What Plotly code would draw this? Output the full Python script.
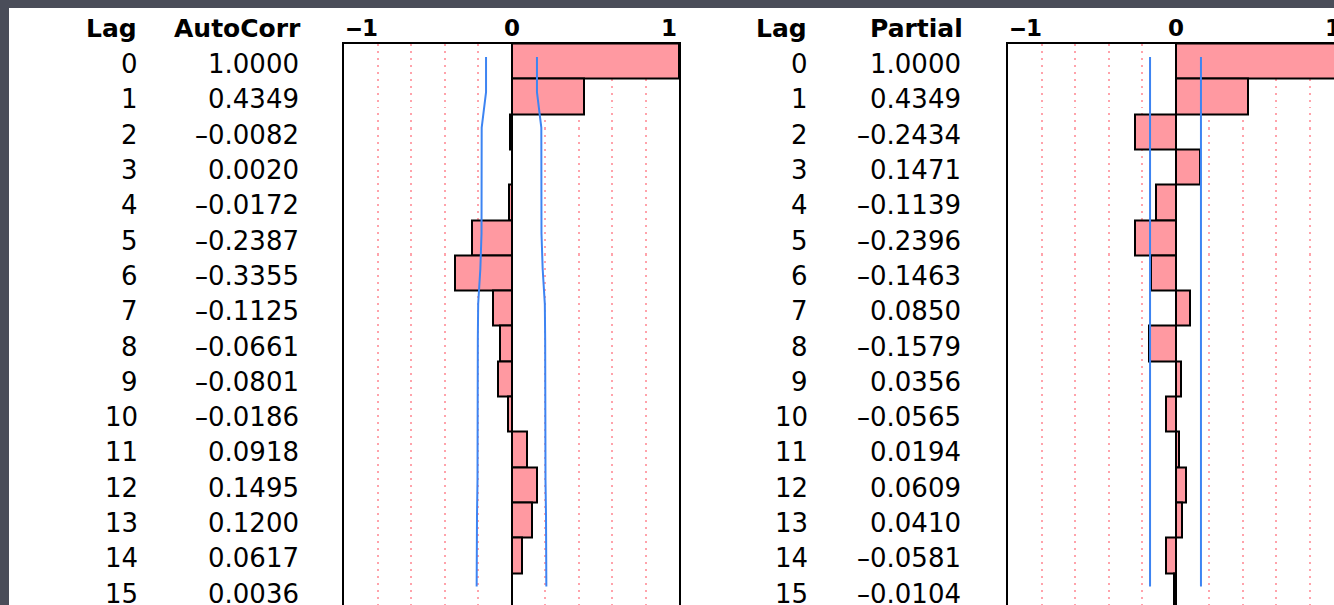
import plotly.graph_objects as go

# ---------------- data ----------------
lags = list(range(16))
autocorr = [1.0000, 0.4349, -0.0082, 0.0020, -0.0172, -0.2387, -0.3355, -0.1125,
            -0.0661, -0.0801, -0.0186, 0.0918, 0.1495, 0.1200, 0.0617, 0.0036]
partial = [1.0000, 0.4349, -0.2434, 0.1471, -0.1139, -0.2396, -0.1463, 0.0850,
           -0.1579, 0.0356, -0.0565, 0.0194, 0.0609, 0.0410, -0.0581, -0.0104]
acf_limit = [0.152, 0.152, 0.178, 0.179, 0.179, 0.179, 0.186, 0.199,
             0.201, 0.201, 0.202, 0.202, 0.203, 0.206, 0.207, 0.208]
pacf_limit = [0.152] * 16
tick_vals = [-1, 0, 1]
tick_text = ["\u20121", "0", "1"]
grid_vals = [-0.8, -0.6, -0.4, -0.2, 0.2, 0.4, 0.6, 0.8]

# ---------------- layout constants ----------------
W, H = 1334, 605
FONT = "DejaVu Sans"
BAR_FILL = "#ff99a1"
BLUE = "#3d84f2"
GRID = "#ffa3ab"
BG = "#4a4d59"

top_px = 43.5
row_h = 35.3
y_bottom_val = -0.5 + (H - top_px) / row_h
y_dom = [0, (H - top_px) / H]

unit = 167.5
L_left, L_zero = 344.0, 511.5
R_left, R_zero = 1008.0, 1175.5

def px(x):
    return x / W

def py(y):
    return (H - y) / H

fig = go.Figure()

# bars
fig.add_trace(go.Bar(x=autocorr, y=lags, orientation="h", base=0, width=1,
                     marker=dict(color=BAR_FILL, line=dict(color="black", width=2)),
                     xaxis="x", yaxis="y", showlegend=False, hoverinfo="skip"))
fig.add_trace(go.Bar(x=partial, y=lags, orientation="h", base=0, width=1,
                     marker=dict(color=BAR_FILL, line=dict(color="black", width=2)),
                     xaxis="x2", yaxis="y2", showlegend=False, hoverinfo="skip"))

yline = [l - 0.12 for l in lags]
for sgn in (1, -1):
    fig.add_trace(go.Scatter(x=[sgn * v for v in acf_limit], y=yline, mode="lines",
                             line=dict(color=BLUE, width=2), xaxis="x", yaxis="y",
                             showlegend=False, hoverinfo="skip"))
    fig.add_trace(go.Scatter(x=[sgn * v for v in pacf_limit], y=yline, mode="lines",
                             line=dict(color=BLUE, width=2), xaxis="x2", yaxis="y2",
                             showlegend=False, hoverinfo="skip"))

right_max = (W - R_left) / unit - 1

xcommon = dict(showticklabels=False, ticks="", tickvals=grid_vals, showgrid=True,
               gridcolor=GRID, gridwidth=2, griddash="2px,5px", zeroline=False,
               showline=True, linecolor="black", linewidth=2, side="top", mirror=False,
               fixedrange=True)
ycommon = dict(range=[y_bottom_val, -0.5], domain=y_dom, showgrid=False, zeroline=False,
               showticklabels=False, ticks="", showline=True, linecolor="black",
               linewidth=2, fixedrange=True)

fig.update_layout(
    width=W, height=H,
    margin=dict(l=0, r=0, t=0, b=0),
    paper_bgcolor=BG, plot_bgcolor="white",
    bargap=0, barmode="overlay",
    xaxis=dict(range=[-1, 1], domain=[px(L_left), px(L_left + 2 * unit)], anchor="y", **xcommon),
    yaxis=dict(anchor="x", mirror=True, **ycommon),
    xaxis2=dict(range=[-1, right_max], domain=[px(R_left), 1], anchor="y2", **xcommon),
    yaxis2=dict(anchor="x2", mirror=False, **ycommon),
    shapes=[dict(type="rect", xref="paper", yref="paper", x0=px(9), x1=1, y0=0, y1=py(8),
                 fillcolor="white", line=dict(width=0), layer="below")],
)

ann = []
num_font = dict(family=FONT, size=26, color="black")
hdr_font = dict(family=FONT, size=25, color="black", weight="bold")
tick_font = dict(family=FONT, size=23, color="black", weight="bold")

def fmt(v):
    s = f"{v:.4f}"
    return s.replace("-", "–")

for yref, lag_x, val_x, vals, hdr in (("y", 140, 301, autocorr, "AutoCorr"),
                                      ("y2", 810, 963, partial, "Partial")):
    ann.append(dict(text="Lag", x=px(lag_x - 1), y=py(29), xref="paper", yref="paper",
                    xanchor="right", yanchor="middle", showarrow=False, font=hdr_font))
    ann.append(dict(text=hdr, x=px(val_x + 2), y=py(29), xref="paper", yref="paper",
                    xanchor="right", yanchor="middle", showarrow=False, font=hdr_font))
    for l, v in zip(lags, vals):
        ann.append(dict(text=str(l), x=px(lag_x), y=l, xref="paper", yref=yref,
                        xanchor="right", yanchor="middle", showarrow=False, font=num_font,
                        yshift=-3))
        ann.append(dict(text=fmt(v), x=px(val_x), y=l, xref="paper", yref=yref,
                        xanchor="right", yanchor="middle", showarrow=False, font=num_font,
                        yshift=-3))

for left, zero in ((L_left, L_zero), (R_left, R_zero)):
    for tv, tt in zip(tick_vals, tick_text):
        xp = zero + tv * unit
        anchor = {-1: "left", 0: "center", 1: "right"}[tv]
        ann.append(dict(text=tt, x=xp / W, y=py(28), xref="paper", yref="paper",
                        xanchor=anchor, yanchor="middle", showarrow=False, font=tick_font))

fig.update_layout(annotations=ann)
fig.write_html("out.html")
